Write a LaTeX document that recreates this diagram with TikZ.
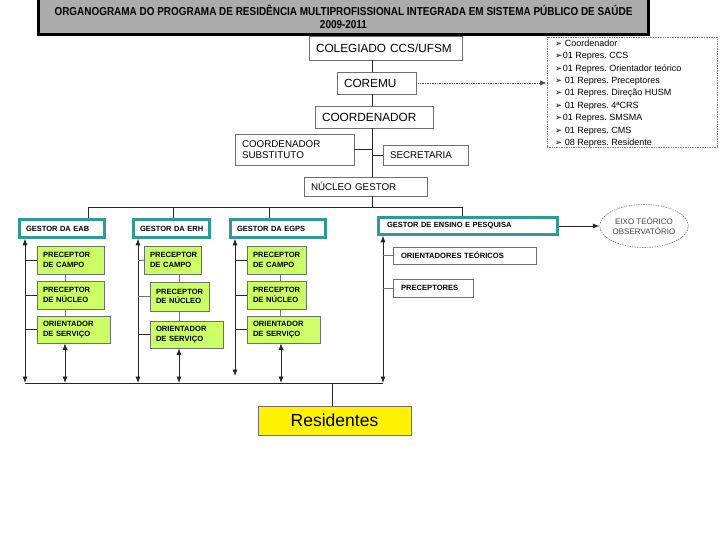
\documentclass[tikz,border=0pt]{standalone}
\usepackage{fontspec}
\setmainfont{Liberation Sans}
\newfontfamily\dvfont{DejaVu Sans}
\usetikzlibrary{shapes.geometric,arrows.meta}
\definecolor{titlegray}{RGB}{172,172,172}
\definecolor{tealb}{RGB}{46,154,154}
\definecolor{limefill}{RGB}{204,255,102}
\definecolor{bordergray}{RGB}{110,110,110}
\newcommand{\blt}{{\dvfont\fontsize{8.5}{8.5}\selectfont ➢}}
\begin{document}
\frenchspacing
\begin{tikzpicture}[x=1pt,y=-1pt,
  box/.style={draw=bordergray, line width=0.8pt, fill=white, inner xsep=7pt, inner ysep=0pt, align=left},
  gestor/.style={draw=tealb, line width=2.6pt, fill=white, inner xsep=6.5pt, inner ysep=0pt, align=left, font=\fontsize{7.5}{9}\selectfont\bfseries, minimum height=18pt},
  gbox/.style={draw=bordergray, line width=0.7pt, fill=limefill, inner xsep=6pt, inner ysep=0pt, align=left, font=\fontsize{7.6}{9.3}\selectfont\bfseries},
  link/.style={line width=0.7pt, draw=black!85},
  glink/.style={line width=0.7pt, draw=black!55},
  tip/.style={-{Latex[length=6.5pt,width=5pt]}},
  dbl/.style={link, {Latex[length=6.5pt,width=5pt]}-{Latex[length=6.5pt,width=5pt]}},
]
\useasboundingbox (0,0) rectangle (720,540);

% title
\node[draw=black, line width=3pt, fill=titlegray, minimum width=610pt, minimum height=36pt, inner sep=0pt, align=center, font=\fontsize{11.5}{13.5}\selectfont\bfseries] (title) at (343.5,17)
 {\scalebox{0.865}[1]{ORGANOGRAMA DO PROGRAMA DE RESIDÊNCIA MULTIPROFISSIONAL INTEGRADA EM SISTEMA PÚBLICO DE SAÚDE}\\\scalebox{0.865}[1]{2009-2011}};

\coordinate (cx) at (372,0);

% top chain
\node[box, font=\fontsize{11.8}{13}\selectfont, minimum width=153pt, text width=139pt, minimum height=24pt] (col) at (385.5,48) {COLEGIADO CCS/UFSM};
\node[box, font=\fontsize{11.8}{13}\selectfont, minimum width=79pt, text width=65pt, minimum height=22pt] (coremu) at (376.5,83) {COREMU};
\node[box, font=\fontsize{11.8}{13}\selectfont, minimum width=118pt, text width=104pt, minimum height=22pt] (coord) at (374,117) {COORDENADOR};
\node[box, font=\fontsize{9.8}{11.5}\selectfont, minimum width=119pt, text width=105pt, minimum height=31pt] (sub) at (294.5,149.5) {COORDENADOR\\SUBSTITUTO};
\node[box, font=\fontsize{9.8}{11}\selectfont, minimum width=85pt, text width=71pt, minimum height=20pt] (sec) at (425.5,155) {SECRETARIA};
\node[box, font=\fontsize{9.8}{11}\selectfont, minimum width=123pt, text width=109pt, minimum height=19pt] (nuc) at (365.5,186.5) {NÚCLEO GESTOR};

\draw[link] (col.south -| cx) -- (coremu.north -| cx);
\draw[link] (coremu.south -| cx) -- (coord.north -| cx);
\draw[link] (coord.south -| cx) -- (nuc.north -| cx);
\draw[link] (sub.east) -- (sub.east -| cx);
\draw[link] (sec.west) -- (sec.west -| cx);

% list box
\node[draw=gray, densely dotted, line width=0.7pt, minimum width=170pt, minimum height=110pt, inner sep=0pt] (list) at (632,92) {};
\node[anchor=north west, align=left, inner sep=0pt, font=\fontsize{9}{12.4}\selectfont] (items) at (555,39.5)
 {\blt\ Coordenador\\
  \blt\hspace{0.5pt}01 Repres. CCS\\
  \blt\hspace{0.5pt}01 Repres. Orientador teórico\\
  \blt\ 01 Repres. Preceptores\\
  \blt\ 01 Repres. Direção HUSM\\
  \blt\ 01 Repres. 4ªCRS\\
  \blt\hspace{0.5pt}01 Repres. SMSMA\\
  \blt\ 01 Repres. CMS\\
  \blt\ 08 Repres. Residente};
\draw[line width=0.7pt, draw=black!70, densely dotted, -{Latex[length=6.5pt,width=5pt]}] (coremu.east) -- (coremu.east -| list.west);

% gestores
\node[gestor, minimum width=85pt, text width=72pt] (eab) at (62,228.5) {GESTOR DA EAB};
\node[gestor, minimum width=76pt, text width=63pt] (erh) at (171.5,228.5) {\mbox{GESTOR DA ERH}};
\node[gestor, minimum width=95pt, text width=82pt] (egps) at (278,228.5) {GESTOR DA EGPS};
\node[gestor, minimum width=179pt, text width=162pt, inner xsep=8.5pt, minimum height=17pt] (ens) at (468,226) {GESTOR DE ENSINO E PESQUISA};

\node[ellipse, draw=gray, dash pattern=on 1.5pt off 1pt, line width=0.6pt, minimum width=78pt, minimum height=43pt, inner sep=0pt, align=center, font=\fontsize{8}{10}\selectfont, text=black!75] (eixo) at (644,226) {EIXO TEÓRICO\\OBSERVATÓRIO};
\draw[link, tip] (ens.east) -- (eixo.west);

% top bus
\coordinate (busT) at (372,207);
\coordinate (t1) at (88,207);
\coordinate (t2) at (173,207);
\coordinate (t3) at (269,207);
\coordinate (t4) at (462,207);
\draw[link] (nuc.south -| cx) -- (busT);
\draw[link] (t1) -- (t4);
\draw[link] (t1) -- (t1 |- eab.north);
\draw[link] (t2) -- (t2 |- erh.north);
\draw[link] (t3) -- (t3 |- egps.north);
\draw[link] (t4) -- (t4 |- ens.north);

% green boxes EAB
\node[gbox, minimum width=67pt, text width=55pt, minimum height=28pt] (c1) at (70.5,260) {PRECEPTOR\\DE CAMPO};
\node[gbox, minimum width=67pt, text width=55pt, minimum height=28pt] (n1) at (70.5,295) {PRECEPTOR\\DE NÚCLEO};
\node[gbox, minimum width=73pt, text width=61pt, minimum height=27pt] (o1) at (73.5,329.5) {ORIENTADOR\\DE SERVIÇO};
% ERH
\node[gbox, minimum width=57pt, text width=45pt, minimum height=28pt] (c2) at (172.5,260) {PRECEPTOR\\DE CAMPO};
\node[gbox, minimum width=59pt, text width=47pt, minimum height=29pt] (n2) at (179.5,296.5) {PRECEPTOR\\DE NÚCLEO};
\node[gbox, minimum width=73pt, text width=61pt, minimum height=27pt] (o2) at (186.5,334.5) {ORIENTADOR\\DE SERVIÇO};
% EGPS
\node[gbox, minimum width=59pt, text width=47pt, minimum height=28pt] (c3) at (276.5,260) {PRECEPTOR\\DE CAMPO};
\node[gbox, minimum width=59pt, text width=47pt, minimum height=28pt] (n3) at (276.5,295) {PRECEPTOR\\DE NÚCLEO};
\node[gbox, minimum width=73pt, text width=61pt, minimum height=27pt] (o3) at (283.5,329.5) {ORIENTADOR\\DE SERVIÇO};

% Ensino sub boxes
\node[box, font=\fontsize{7.6}{9}\selectfont\bfseries, minimum width=143pt, text width=127pt, inner xsep=8pt, minimum height=17pt] (ot) at (464.5,255.5) {ORIENTADORES TEÓRICOS};
\node[box, font=\fontsize{7.6}{9}\selectfont\bfseries, minimum width=80pt, text width=64pt, inner xsep=8pt, minimum height=18pt] (pr) at (433,288) {PRECEPTORES};

% column connectors
\coordinate (m1) at (65,0);
\coordinate (m2) at (179,0);
\coordinate (m3) at (280,0);
\draw[glink] (c1.south -| m1) -- (n1.north -| m1);
\draw[glink] (n1.south -| m1) -- (o1.north -| m1);
\draw[glink] (c2.south -| m2) -- (n2.north -| m2);
\draw[glink] (n2.south -| m2) -- (o2.north -| m2);
\draw[glink] (c3.south -| m3) -- (n3.north -| m3);
\draw[glink] (n3.south -| m3) -- (o3.north -| m3);

% bottom bus
\coordinate (b1) at (25,383);
\coordinate (b2) at (65,383);
\coordinate (b3) at (138,383);
\coordinate (b4) at (179,383);
\coordinate (b5) at (281,383);
\coordinate (b6) at (383,383);
\coordinate (e3) at (235,376);
\coordinate (br) at (332,383);
\draw[link] (b1) -- (b6);

% left verticals
\draw[dbl] (eab.south -| b1) -- (b1);
\draw[dbl] (erh.south -| b3) -- (b3);
\draw[dbl] (egps.south -| e3) -- (e3);
\draw[dbl] (ens.south -| b6) -- (b6);

% branches
\draw[link] (c1.west -| b1) -- (c1.west);
\draw[link] (n1.west -| b1) -- (n1.west);
\draw[link] (o1.west -| b1) -- (o1.west);
\draw[glink] (c2.west -| b3) -- (c2.west);
\draw[glink] (n2.west -| b3) -- (n2.west);
\draw[link] (o2.west -| b3) -- (o2.west);
\draw[link] (c3.west -| e3) -- (c3.west);
\draw[link] (n3.west -| e3) -- (n3.west);
\draw[link] (o3.west -| e3) -- (o3.west);
\draw[glink] (ot.west -| b6) -- (ot.west);
\draw[glink] (pr.west -| b6) -- (pr.west);

% double arrows from orientadores
\draw[dbl] (o1.south -| b2) -- (b2);
\draw[dbl] (o2.south -| b4) -- (b4);
\draw[dbl] (o3.south -| b5) -- (b5);

% residentes
\node[draw=bordergray, line width=0.8pt, fill=yellow, minimum width=153pt, minimum height=29pt, inner sep=0pt, font=\fontsize{17.5}{20}\selectfont] (res) at (334.5,420.5) {Residentes};
\draw[link] (br) -- (br |- res.north);
\end{tikzpicture}
\end{document}
